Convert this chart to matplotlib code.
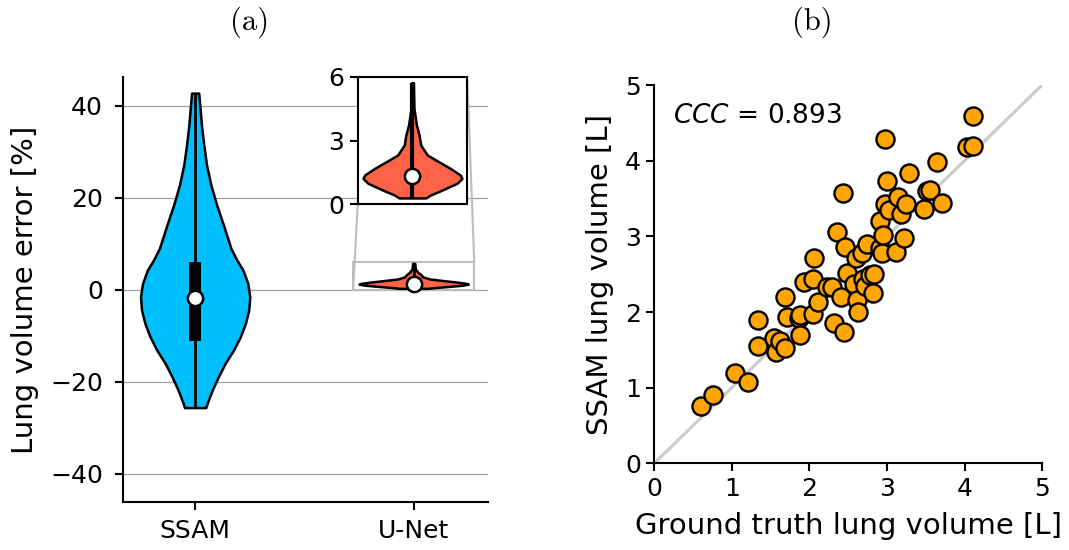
import numpy as np
import matplotlib
matplotlib.use("Agg")
import matplotlib.pyplot as plt
from mpl_toolkits.axes_grid1.inset_locator import mark_inset

# ---------------- data ----------------
methods = ["SSAM", "U-Net"]

# SSAM violin profile (error %, relative half-width)
ssam_y = [42.7, 40.15, 35.8, 31.46, 27.1, 22.76, 18.4, 14.07, 9.0, 6.46, 4.28, 1.39,
          -1.52, -4.41, -7.3, -10.2, -13.1, -16.0, -18.9, -21.8, -24.7, -25.6]
ssam_w = [0.065, 0.084, 0.115, 0.158, 0.208, 0.288, 0.394, 0.517, 0.654, 0.762, 0.874, 0.963,
          1.0, 0.981, 0.92, 0.827, 0.703, 0.548, 0.424, 0.312, 0.219, 0.195]
ssam_stats = dict(median=-1.74, q1=-11.15, q3=6.1, min=-25.6, max=42.7)

# U-Net violin profile
unet_y = [5.72, 4.51, 3.73, 3.26, 2.79, 2.32, 2.0, 1.69, 1.38, 1.22, 0.99, 0.67, 0.44, 0.30]
unet_w = [0.02, 0.03, 0.08, 0.134, 0.166, 0.3, 0.534, 0.766, 0.966, 1.0, 0.9, 0.6, 0.366, 0.27]
unet_stats = dict(median=1.35, q1=0.95, q3=1.7, min=0.30, max=5.72)

# scatter: ground truth vs SSAM lung volume [L]
gt = [0.60, 0.754, 1.043, 1.206, 1.336, 1.336, 1.538, 1.572, 1.615, 1.68, 1.689, 1.71,
      1.86, 1.88, 1.88, 1.925, 2.046, 2.046, 2.063, 2.11, 2.227, 2.29, 2.313, 2.356,
      2.408, 2.43, 2.44, 2.464, 2.486, 2.57, 2.606, 2.615, 2.623, 2.68, 2.693, 2.722,
      2.744, 2.787, 2.822, 2.83, 2.907, 2.907, 2.938, 2.95, 2.972, 2.98, 3.0, 3.023,
      3.11, 3.145, 3.183, 3.226, 3.239, 3.29, 3.476, 3.51, 3.553, 3.648, 3.713, 4.027,
      4.114, 4.109]
ssam = [0.757, 0.899, 1.189, 1.07, 1.554, 1.894, 1.652, 1.475, 1.616, 1.52, 2.2, 1.93,
        1.916, 1.96, 1.695, 2.39, 2.43, 1.97, 2.72, 2.127, 2.334, 2.334, 1.858, 3.06,
        2.2, 3.576, 1.73, 2.854, 2.52, 2.37, 2.709, 2.158, 2.004, 2.775, 2.43, 2.343,
        2.898, 2.488, 2.246, 2.502, 3.206, 2.841, 2.783, 3.017, 4.286, 3.423, 3.731, 3.347,
        2.797, 3.515, 3.29, 2.973, 3.427, 3.832, 3.357, 3.602, 3.612, 3.986, 3.436, 4.176,
        4.193, 4.59]
ccc = 0.893

yticks_a = [-40, -20, 0, 20, 40]
yticks_inset = [0, 3, 6]
ticks_b = [0, 1, 2, 3, 4, 5]

# ---------------- style ----------------
FS_TICK = 18
FS_LAB = 21
SSAM_C = "#00BFFF"
UNET_C = "#FF6347"

plt.rcParams.update({
    "font.family": "DejaVu Sans",
    "axes.linewidth": 1.5,
    "xtick.major.width": 1.5,
    "ytick.major.width": 1.5,
    "xtick.major.size": 6,
    "ytick.major.size": 6,
    "xtick.labelsize": FS_TICK,
    "ytick.labelsize": FS_TICK,
})

fig = plt.figure(figsize=(10.69, 5.5), dpi=100)
ax = fig.add_axes([0.1151, 0.0873, 0.3414, 0.7727])
axb = fig.add_axes([0.6121, 0.1576, 0.3627, 0.6878])
axins = fig.add_axes([0.3346, 0.6285, 0.1025, 0.232])


def draw_violin(a, pos, ys, ws, st, color, box_lw, wh_lw):
    vp = {"coords": np.array(ys), "vals": np.array(ws), "mean": st["median"],
          "median": st["median"], "min": st["min"], "max": st["max"]}
    res = a.violin([vp], positions=[pos], widths=0.5, showmeans=False,
                   showextrema=False, showmedians=False)
    for b in res["bodies"]:
        b.set_facecolor(color)
        b.set_edgecolor("black")
        b.set_linewidth(1.8)
        b.set_alpha(1)
        b.set_zorder(2)
    a.vlines(pos, st["min"], st["max"], color="black", lw=wh_lw, zorder=3)
    a.vlines(pos, st["q1"], st["q3"], color="black", lw=box_lw, zorder=3)
    a.plot([pos], [st["median"]], "o", ms=11, mfc="white", mec="black",
           mew=1.8, zorder=4)


# ---------------- panel (a) ----------------
draw_violin(ax, 0, ssam_y, ssam_w, ssam_stats, SSAM_C, 8.6, 2.0)
draw_violin(ax, 1, unet_y, unet_w, unet_stats, UNET_C, 5, 2.0)
ax.set_xlim(-0.33, 1.34)
ax.set_ylim(-46.1, 46.2)
ax.set_yticks(yticks_a)
ax.set_xticks([0, 1])
ax.set_xticklabels(methods)
ax.tick_params(axis="y", pad=8.5)
ax.tick_params(axis="x", pad=6)
ax.yaxis.grid(True, color="#a0a0a0", lw=0.9)
ax.set_axisbelow(True)
for s in ["top", "right"]:
    ax.spines[s].set_visible(False)
ax.set_ylabel("Lung volume error [%]", fontsize=FS_LAB, labelpad=8)

draw_violin(axins, 1, unet_y, unet_w, unet_stats, UNET_C, 5, 3.0)
axins.set_xlim(0.723, 1.277)
axins.set_ylim(0, 6)
axins.set_yticks(yticks_inset)
axins.set_xticks([])
axins.set_facecolor("white")
mark_inset(ax, axins, loc1=1, loc2=3, fc="none", ec="#bdbdbd", lw=1.5, zorder=1)

# ---------------- panel (b) ----------------
axb.plot([0, 5], [0, 5], color="#cccccc", lw=2.3, zorder=1)
axb.scatter(gt, ssam, s=170, c="#FFA500", edgecolors="black", linewidths=1.7, zorder=3)
axb.set_xlim(0, 5)
axb.set_ylim(0, 5)
axb.set_xticks(ticks_b)
axb.set_yticks(ticks_b)
for s in ["top", "right"]:
    axb.spines[s].set_visible(False)
axb.set_xlabel("Ground truth lung volume [L]", fontsize=FS_LAB, labelpad=8)
axb.set_ylabel("SSAM lung volume [L]", fontsize=FS_LAB, labelpad=8)
axb.text(0.24, 4.5, r"$CCC$ = " + f"{ccc:.3f}", fontsize=19, va="baseline")

# ---------------- panel titles ----------------
fig.text(0.233, 0.959, "(a)", fontfamily="cmr10", fontsize=22, ha="center", va="center")
fig.text(0.760, 0.959, "(b)", fontfamily="cmr10", fontsize=22, ha="center", va="center")

fig.savefig("out.png", dpi=100)
